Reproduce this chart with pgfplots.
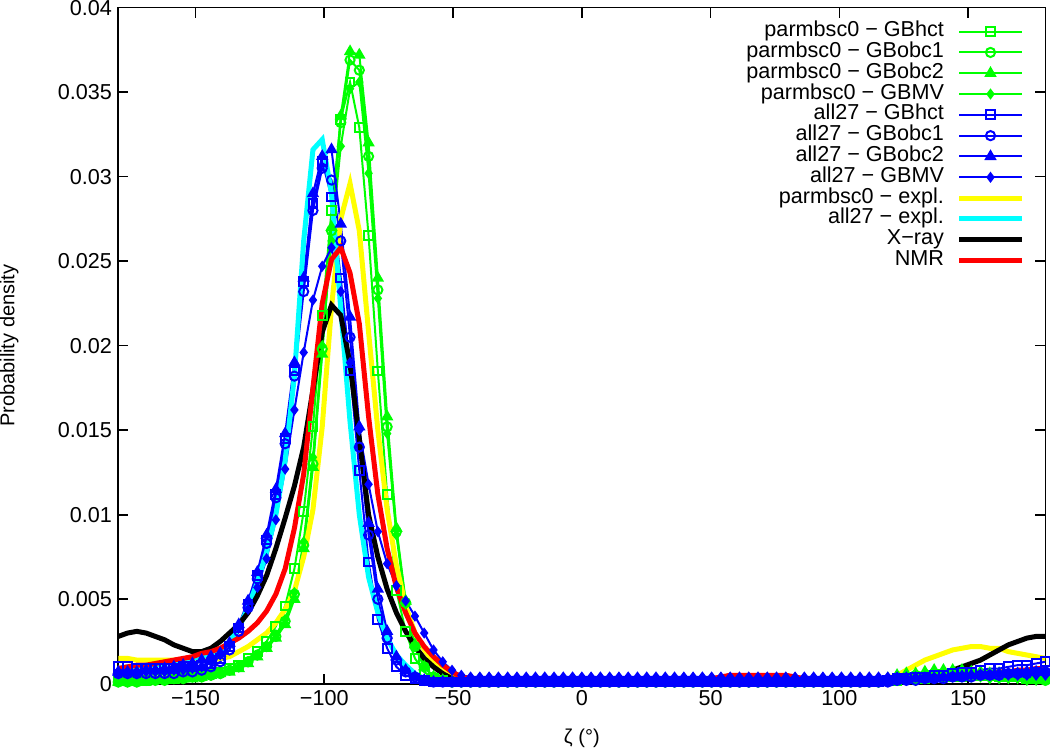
\documentclass[border=0pt]{standalone}
\usepackage{pgfplots}
\pgfplotsset{compat=1.18}
\usepackage{pgfplotstable}
\usepackage{fontspec}
\setmainfont{Liberation Sans}
\definecolor{ggreen}{RGB}{0,255,0}
\definecolor{bblue}{RGB}{0,0,255}
\definecolor{yyellow}{RGB}{255,255,0}
\definecolor{ccyan}{RGB}{0,255,255}
\definecolor{rred}{RGB}{255,0,0}

\pgfplotstableread{
x gH gO1 gO2 gMV bH bO1 bO2 bMV yel cya blk red
-180 .0002 .0001 .0001 .0001 .0010 .0006 .0007 .0006 .0015 .0009 .0028 .0009
-176.4 .0002 .0001 .0001 .0001 .0010 .0006 .0007 .0006 .0015 .0010 .0030 .0010
-172.8 .0002 .0001 .0001 .0001 .0009 .0006 .0007 .0006 .0014 .0010 .0031 .0011
-169.2 .0002 .0002 .0001 .0002 .0009 .0006 .0008 .0007 .0014 .0011 .0030 .0011
-165.6 .0003 .0002 .0002 .0002 .0009 .0006 .0008 .0007 .0014 .0011 .0028 .0012
-162 .0003 .0002 .0002 .0002 .0009 .0006 .0009 .0007 .0014 .0012 .0026 .0013
-158.4 .0003 .0003 .0002 .0003 .0009 .0006 .0010 .0008 .0014 .0013 .0023 .0014
-154.8 .0004 .0003 .0003 .0003 .0010 .0007 .0011 .0008 .0014 .0014 .0021 .0015
-151.2 .0004 .0004 .0003 .0004 .0010 .0007 .0012 .0009 .0014 .0015 .0019 .0016
-147.6 .0005 .0004 .0004 .0004 .0011 .0008 .0014 .0010 .0014 .0016 .0019 .0018
-144 .0006 .0005 .0005 .0005 .0012 .0010 .0016 .0013 .0014 .0018 .0021 .0019
-140.4 .0007 .0006 .0006 .0006 .0015 .0013 .0018 .0017 .0015 .0020 .0025 .0021
-136.8 .0009 .0008 .0007 .0008 .0022 .0020 .0024 .0024 .0016 .0025 .0030 .0024
-133.2 .0011 .0010 .0009 .0010 .0033 .0031 .0035 .0033 .0019 .0033 .0035 .0027
-129.6 .0015 .0013 .0012 .0013 .0047 .0045 .0049 .0044 .0022 .0045 .0042 .0031
-126 .0019 .0017 .0016 .0017 .0064 .0062 .0066 .0057 .0026 .0060 .0052 .0036
-122.4 .0025 .0022 .0021 .0022 .0085 .0083 .0088 .0074 .0030 .0078 .0064 .0043
-118.8 .0034 .0028 .0027 .0029 .0112 .0110 .0115 .0097 .0036 .0100 .0080 .0053
-115.2 .0046 .0037 .0035 .0038 .0145 .0142 .0148 .0127 .0044 .0132 .0098 .0068
-111.6 .0068 .0053 .0050 .0054 .0185 .0182 .0190 .0162 .0055 .0182 .0117 .0092
-108 .0102 .0082 .0080 .0084 .0238 .0232 .0240 .0196 .0075 .0262 .0140 .0124
-104.4 .0152 .0130 .0128 .0134 .0284 .0280 .0290 .0227 .0103 .0316 .0174 .0175
-100.8 .0218 .0198 .0195 .0200 .0309 .0305 .0312 .0247 .0152 .0322 .0208 .0225
-97.2 .0280 .0268 .0270 .0262 .0288 .0298 .0316 .0258 .0223 .0290 .0224 .0251
-93.6 .0334 .0332 .0336 .0318 .0240 .0262 .0272 .0232 .0275 .0222 .0218 .0258
-90 .0356 .0369 .0374 .0352 .0185 .0205 .0217 .0190 .0296 .0155 .0189 .0243
-86.4 .0329 .0363 .0372 .0356 .0126 .0140 .0152 .0150 .0268 .0100 .0145 .0213
-82.8 .0265 .0312 .0320 .0302 .0072 .0088 .0095 .0118 .0208 .0063 .0100 .0158
-79.2 .0185 .0233 .0240 .0228 .0038 .0050 .0056 .0090 .0150 .0042 .0075 .0112
-75.6 .0112 .0152 .0158 .0148 .0021 .0027 .0031 .0071 .0103 .0027 .0056 .0080
-72 .0055 .0090 .0092 .0088 .0010 .0014 .0016 .0058 .0070 .0017 .0042 .0057
-68.4 .0031 .0048 .0049 .0047 .0005 .0007 .0008 .0049 .0046 .0011 .0031 .0042
-64.8 .0015 .0022 .0023 .0022 .0003 .0004 .0004 .0040 .0030 .0006 .0022 .0030
-61.2 .0007 .0010 .0010 .0010 .0002 .0002 .0002 .0030 .0020 .0003 .0015 .0022
-57.6 .0003 .0004 .0004 .0004 .0001 .0001 .0001 .0020 .0013 .0002 .0010 .0016
-54 .0002 .0002 .0002 .0002 .0001 .0001 .0001 .0013 .0008 .0001 .0006 .0011
-50.4 .0001 .0001 .0001 .0001 .0001 .0001 .0001 .0008 .0005 .0001 .0003 .0007
-46.8 .0001 .0001 .0001 .0001 .0001 .0001 .0001 .0005 .0003 .0001 .0002 .0004
-43.2 .0001 .0001 .0001 .0001 .0001 .0001 .0001 .0004 .0002 .0001 .0001 .0003
-39.6 .0001 .0001 .0001 .0001 .0001 .0001 .0001 .0004 .0002 .0001 .0001 .0002
-36 .0001 .0001 .0001 .0001 .0001 .0001 .0001 .0004 .0002 .0001 .0001 .0002
-32.4 .0001 .0001 .0001 .0001 .0001 .0001 .0001 .0004 .0002 .0001 .0001 .0002
-28.8 .0001 .0001 .0001 .0001 .0001 .0001 .0001 .0004 .0002 .0001 .0001 .0002
-25.2 .0001 .0001 .0001 .0001 .0001 .0001 .0001 .0004 .0002 .0001 .0001 .0002
-21.6 .0001 .0001 .0001 .0001 .0001 .0001 .0001 .0004 .0002 .0001 .0001 .0002
-18 .0001 .0001 .0001 .0001 .0001 .0001 .0001 .0004 .0002 .0001 .0001 .0002
-14.4 .0001 .0001 .0001 .0001 .0001 .0001 .0001 .0004 .0002 .0001 .0001 .0002
-10.8 .0001 .0001 .0001 .0001 .0001 .0001 .0001 .0004 .0002 .0001 .0001 .0002
-7.2 .0001 .0001 .0001 .0001 .0001 .0001 .0001 .0004 .0002 .0001 .0001 .0002
-3.6 .0001 .0001 .0001 .0001 .0001 .0001 .0001 .0004 .0002 .0001 .0001 .0002
0 .0001 .0001 .0001 .0001 .0001 .0001 .0001 .0004 .0002 .0001 .0001 .0002
3.6 .0001 .0001 .0001 .0001 .0001 .0001 .0001 .0004 .0002 .0001 .0001 .0002
7.2 .0001 .0001 .0001 .0001 .0001 .0001 .0001 .0004 .0002 .0001 .0001 .0002
10.8 .0001 .0001 .0001 .0001 .0001 .0001 .0001 .0004 .0002 .0001 .0001 .0002
14.4 .0001 .0001 .0001 .0001 .0001 .0001 .0001 .0004 .0002 .0001 .0001 .0002
18 .0001 .0001 .0001 .0001 .0001 .0001 .0001 .0004 .0002 .0001 .0001 .0002
21.6 .0001 .0001 .0001 .0001 .0001 .0001 .0001 .0004 .0002 .0001 .0001 .0002
25.2 .0001 .0001 .0001 .0001 .0001 .0001 .0001 .0004 .0002 .0001 .0001 .0002
28.8 .0001 .0001 .0001 .0001 .0001 .0001 .0001 .0004 .0002 .0001 .0001 .0002
32.4 .0001 .0001 .0001 .0001 .0001 .0001 .0001 .0004 .0002 .0001 .0001 .0002
36 .0001 .0001 .0001 .0001 .0001 .0001 .0001 .0004 .0002 .0001 .0001 .0002
39.6 .0001 .0001 .0001 .0001 .0001 .0001 .0001 .0004 .0002 .0001 .0001 .0002
43.2 .0001 .0001 .0001 .0001 .0001 .0001 .0001 .0004 .0002 .0001 .0001 .0002
46.8 .0001 .0001 .0001 .0001 .0001 .0001 .0001 .0004 .0002 .0001 .0001 .0002
50.4 .0001 .0001 .0001 .0001 .0001 .0001 .0001 .0004 .0002 .0001 .0001 .0003
54 .0001 .0001 .0001 .0001 .0001 .0001 .0001 .0004 .0002 .0001 .0001 .0004
57.6 .0001 .0001 .0001 .0001 .0001 .0001 .0001 .0004 .0002 .0001 .0001 .0005
61.2 .0001 .0001 .0001 .0001 .0001 .0001 .0001 .0004 .0002 .0001 .0001 .0005
64.8 .0001 .0001 .0001 .0001 .0001 .0001 .0001 .0004 .0002 .0001 .0001 .0005
68.4 .0001 .0001 .0001 .0001 .0001 .0001 .0001 .0004 .0002 .0001 .0001 .0005
72 .0001 .0001 .0001 .0001 .0001 .0001 .0001 .0004 .0002 .0001 .0001 .0005
75.6 .0001 .0001 .0001 .0001 .0001 .0001 .0001 .0004 .0002 .0001 .0001 .0005
79.2 .0001 .0001 .0001 .0001 .0001 .0001 .0001 .0004 .0002 .0001 .0001 .0005
82.8 .0001 .0001 .0001 .0001 .0001 .0001 .0001 .0004 .0002 .0001 .0001 .0004
86.4 .0001 .0001 .0001 .0001 .0001 .0001 .0001 .0004 .0002 .0001 .0001 .0003
90 .0001 .0001 .0001 .0001 .0001 .0001 .0001 .0004 .0002 .0001 .0001 .0002
93.6 .0001 .0001 .0001 .0001 .0001 .0001 .0001 .0004 .0002 .0001 .0001 .0002
97.2 .0001 .0001 .0001 .0001 .0001 .0001 .0001 .0004 .0002 .0001 .0001 .0002
100.8 .0001 .0001 .0001 .0001 .0001 .0001 .0001 .0004 .0002 .0001 .0001 .0002
104.4 .0001 .0001 .0001 .0001 .0001 .0001 .0001 .0004 .0002 .0001 .0001 .0002
108 .0001 .0001 .0001 .0001 .0001 .0001 .0001 .0004 .0002 .0001 .0001 .0002
111.6 .0001 .0001 .0001 .0001 .0001 .0001 .0001 .0004 .0002 .0001 .0001 .0002
115.2 .0001 .0001 .0002 .0001 .0001 .0001 .0001 .0004 .0002 .0001 .0001 .0002
118.8 .0002 .0002 .0003 .0002 .0002 .0001 .0001 .0004 .0003 .0001 .0001 .0002
122.4 .0002 .0003 .0005 .0002 .0003 .0002 .0002 .0004 .0005 .0001 .0001 .0002
126 .0003 .0004 .0006 .0003 .0003 .0002 .0002 .0004 .0008 .0001 .0001 .0002
129.6 .0003 .0005 .0006 .0003 .0004 .0002 .0003 .0004 .0011 .0002 .0002 .0003
133.2 .0003 .0005 .0007 .0004 .0004 .0003 .0003 .0004 .0014 .0002 .0003 .0003
136.8 .0004 .0006 .0008 .0004 .0005 .0003 .0003 .0004 .0016 .0002 .0005 .0004
140.4 .0004 .0006 .0008 .0004 .0005 .0003 .0004 .0004 .0018 .0003 .0007 .0004
144 .0004 .0006 .0008 .0004 .0006 .0004 .0004 .0004 .0020 .0003 .0008 .0005
147.6 .0004 .0006 .0008 .0004 .0007 .0004 .0004 .0005 .0021 .0004 .0010 .0005
151.2 .0005 .0006 .0007 .0004 .0007 .0004 .0005 .0005 .0022 .0004 .0012 .0006
154.8 .0005 .0005 .0007 .0004 .0008 .0005 .0005 .0005 .0022 .0005 .0014 .0006
158.4 .0005 .0005 .0006 .0003 .0009 .0005 .0005 .0005 .0021 .0005 .0017 .0006
162 .0004 .0005 .0006 .0003 .0009 .0005 .0006 .0005 .0021 .0006 .0020 .0007
165.6 .0004 .0004 .0005 .0003 .0010 .0006 .0006 .0005 .0019 .0006 .0023 .0007
169.2 .0004 .0004 .0004 .0003 .0011 .0006 .0006 .0005 .0018 .0007 .0025 .0008
172.8 .0003 .0003 .0004 .0002 .0011 .0006 .0007 .0005 .0017 .0008 .0027 .0008
176.4 .0003 .0003 .0003 .0002 .0012 .0007 .0007 .0005 .0016 .0008 .0028 .0009
180 .0003 .0002 .0002 .0002 .0013 .0007 .0007 .0005 .0015 .0009 .0028 .0009
}\data

\begin{document}
\begin{tikzpicture}
\begin{axis}[
  scale only axis,
  width=463.5pt, height=338pt,
  xmin=-180, xmax=180, ymin=0, ymax=0.04,
  xtick={-150,-100,-50,0,50,100,150},
  xticklabels={−150,−100,−50,0,50,100,150},
  ytick={0,0.005,0.01,0.015,0.02,0.025,0.03,0.035,0.04},
  yticklabels={0,0.005,0.01,0.015,0.02,0.025,0.03,0.035,0.04},
  scaled y ticks=false,
  tick align=inside,
  major tick length=5pt,
  minor tick num=0,
  axis line style={line width=0.8pt},
  every tick/.style={line width=0.8pt, black},
  tick label style={font=\fontsize{10.8}{12}\selectfont},
  yticklabel style={inner ysep=0pt, inner xsep=3pt},
  label style={font=\fontsize{10.8}{12}\selectfont},
  xlabel={ζ (°)},
  ylabel={Probability density},
  every axis y label/.style={at={(axis description cs:-0.1175,0.5)}, rotate=90, anchor=center, inner sep=0pt},
  every axis x label/.style={at={(axis description cs:0.5,-0.08)}, anchor=center, inner sep=0pt},
  legend style={draw=none, fill=none, inner sep=0pt, at={(1,1)}, anchor=north east,
    xshift=-10.5pt, yshift=-6.8pt, font=\fontsize{10.8}{12}\selectfont,
    row sep=0.4pt, column sep=6.5pt,
    nodes={inner sep=0pt, text height=7.5pt, text depth=2.5pt}},
  legend cell align=right,
  legend plot pos=right,
  legend image code/.code={\draw[mark repeat=2,mark phase=2] plot coordinates {(0pt,0pt) (15.5pt,0pt) (31pt,0pt)};},
  every axis plot/.append style={mark options={solid}},
]
\addplot[color=ggreen, line width=1pt, mark=square, mark size=2.2pt] table[x=x,y=gH]{\data};
\addlegendentry{parmbsc0 − GBhct}
\addplot[color=ggreen, line width=1pt, mark=o, mark size=2.3pt] table[x=x,y=gO1]{\data};
\addlegendentry{parmbsc0 − GBobc1}
\addplot[color=ggreen, line width=1pt, mark=triangle*, mark size=2.6pt] table[x=x,y=gO2]{\data};
\addlegendentry{parmbsc0 − GBobc2}
\addplot[color=ggreen, line width=1pt, mark=diamond*, mark size=2pt] table[x=x,y=gMV]{\data};
\addlegendentry{parmbsc0 − GBMV}
\addplot[color=bblue, line width=1pt, mark=square, mark size=2.2pt] table[x=x,y=bH]{\data};
\addlegendentry{all27 − GBhct}
\addplot[color=bblue, line width=1pt, mark=o, mark size=2.3pt] table[x=x,y=bO1]{\data};
\addlegendentry{all27 − GBobc1}
\addplot[color=bblue, line width=1pt, mark=triangle*, mark size=2.6pt] table[x=x,y=bO2]{\data};
\addlegendentry{all27 − GBobc2}
\addplot[color=bblue, line width=1pt, mark=diamond*, mark size=2pt] table[x=x,y=bMV]{\data};
\addlegendentry{all27 − GBMV}
\addplot[color=yyellow, line width=2.5pt, no marks] table[x=x,y=yel]{\data};
\addlegendentry{parmbsc0 − expl.}
\addplot[color=ccyan, line width=2.5pt, no marks] table[x=x,y=cya]{\data};
\addlegendentry{all27 − expl.}
\addplot[color=black, line width=2.5pt, no marks] table[x=x,y=blk]{\data};
\addlegendentry{X−ray}
\addplot[color=rred, line width=2.5pt, no marks] table[x=x,y=red]{\data};
\addlegendentry{NMR}
\end{axis}
\end{tikzpicture}
\end{document}
